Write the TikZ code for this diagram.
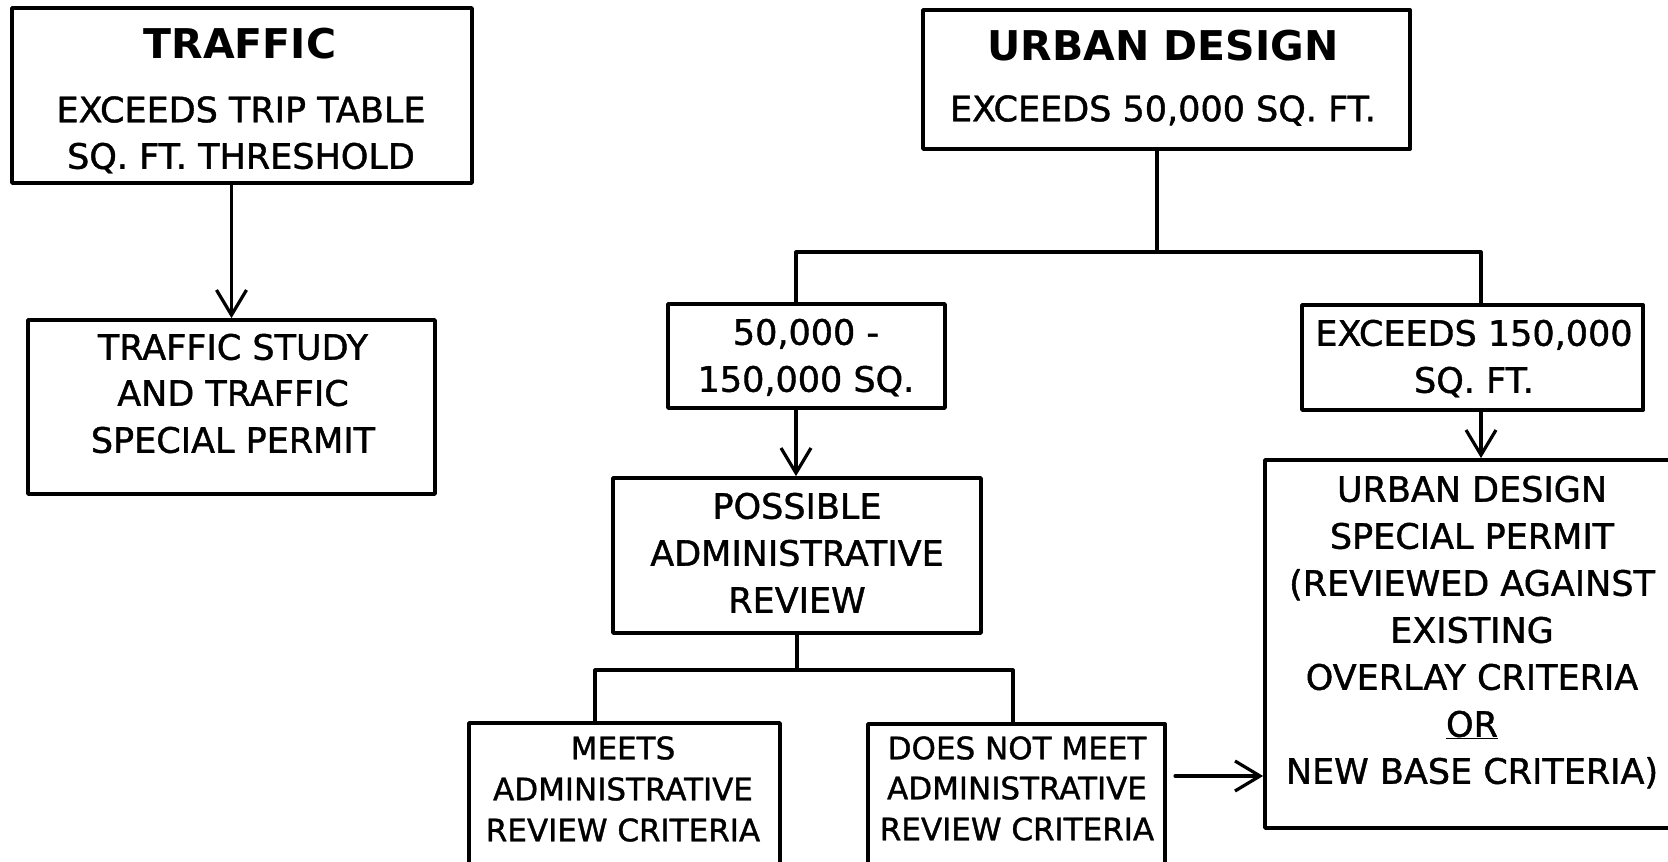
\documentclass[tikz,border=0pt]{standalone}
\usepackage{fontspec}
\setmainfont{DejaVu Sans}[UprightFeatures={FakeBold=1.2}]
\usetikzlibrary{arrows.meta,fit}
\begin{document}
\begin{tikzpicture}[x=1pt,y=-1pt,line join=round,line cap=round,>={Straight Barb[length=25pt,width=30pt]},
	box/.style={draw,line width=3.8pt,inner sep=0pt},
	conn/.style={line width=3.2pt},
	txt/.style={inner sep=0pt,text height=25.5pt,text depth=0pt,font=\fontsize{35}{42}\selectfont},
	small/.style={inner sep=0pt,text height=22.6pt,text depth=0pt,font=\fontsize{31}{37}\selectfont},
	head/.style={inner sep=0pt,text height=29.9pt,text depth=0pt,font=\fontsize{41}{49}\selectfont\bfseries}]
	\useasboundingbox (0,0) rectangle (1668,862);
	\node[box,fit={(12,8)(472,183)}] (traffic) {};
	\node[box,fit={(28,320)(435,494)}] (study) {};
	\node[box,fit={(923,10)(1410,149)}] (urban) {};
	\node[box,fit={(668,304)(945,408)}] (midrange) {};
	\node[box,fit={(1302,305)(1643,410)}] (large) {};
	\node[box,fit={(613,478)(981,633)}] (possible) {};
	\node[box,fit={(469,723)(780,872)}] (meets) {};
	\node[box,fit={(868,724)(1165,872)}] (notmeet) {};
	\node[box,fit={(1265,460)(1684,828)}] (permit) {};
	\node[head] (trafficttl) at (240,44) {TRAFFIC};
	\node[head] (urbanttl) at (1163,46) {URBAN DESIGN};
	\foreach \t/\y [count=\i] in {EXCEEDS TRIP TABLE/109.5,SQ. FT. THRESHOLD/156}
		\node[txt] (trafficl\i) at (241,\y) {\t};
	\foreach \t/\y [count=\i] in {TRAFFIC STUDY/347,AND TRAFFIC/393,SPECIAL PERMIT/440}
		\node[txt] (studyl\i) at (233,\y) {\t};
	\node[txt] (urbanl1) at (1163,108.5) {EXCEEDS 50,000 SQ. FT.};
	\foreach \t/\y [count=\i] in {{50,000 -}/332,{150,000 SQ.}/379}
		\node[txt] (midrangel\i) at (806,\y) {\t};
	\foreach \t/\y [count=\i] in {{EXCEEDS 150,000}/333,SQ. FT./380}
		\node[txt] (largel\i) at (1474,\y) {\t};
	\foreach \t/\y [count=\i] in {POSSIBLE/506,ADMINISTRATIVE/553,REVIEW/600}
		\node[txt] (possiblel\i) at (797,\y) {\t};
	\foreach \t/\y [count=\i] in {MEETS/748,ADMINISTRATIVE/789,REVIEW CRITERIA/830}
		\node[small] (meetsl\i) at (623,\y) {\t};
	\foreach \t/\y [count=\i] in {DOES NOT MEET/748,ADMINISTRATIVE/788,REVIEW CRITERIA/829}
		\node[small] (notmeetl\i) at (1017,\y) {\t};
	\foreach \t/\y [count=\i] in {URBAN DESIGN/489,SPECIAL PERMIT/536,{(REVIEWED AGAINST}/583,EXISTING/630,
		OVERLAY CRITERIA/677,{\underline{OR}}/724,{NEW BASE CRITERIA)}/771}
		\node[txt] (permitl\i) at (1472,\y) {\t};
	\path (1157,252) coordinate (udfork) (796,252) coordinate (lfork) (1481,252) coordinate (rfork)
	(797,670) coordinate (pfork) (595,670) coordinate (mfork) (1013,670) coordinate (nfork)
	(1175,776) coordinate (nout);
	\draw[conn,->] (traffic.south -| study.north) -- (study.north);
	\draw[conn] (urban.south -| udfork) -- (udfork);
	\draw[conn] (midrange.north -| lfork) |- (rfork) -- (large.north -| rfork);
	\draw[conn,->] (midrange.south -| lfork) -- (possible.north -| lfork);
	\draw[conn,->] (large.south -| rfork) -- (permit.north -| rfork);
	\draw[conn] (possible.south -| pfork) -- (pfork);
	\draw[conn] (meets.north -| mfork) |- (nfork) -- (notmeet.north -| nfork);
	\draw[conn,->] (nout) -- (permit.west |- nout);
\end{tikzpicture}
\end{document}
